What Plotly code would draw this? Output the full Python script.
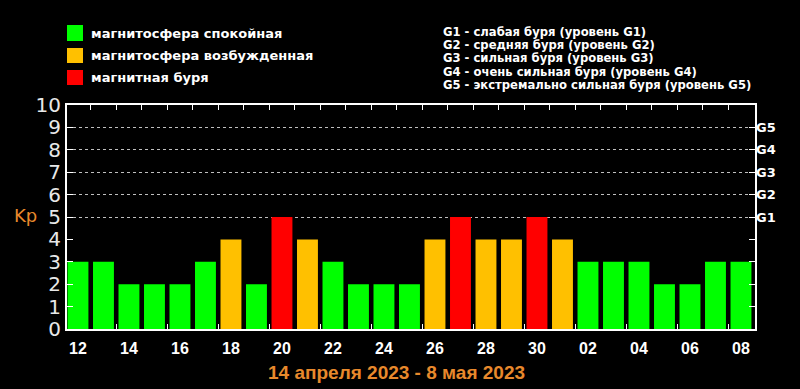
import plotly.graph_objects as go

# ---- data ----
day_labels = ["12", "13", "14", "15", "16", "17", "18", "19", "20", "21", "22", "23", "24", "25",
              "26", "27", "28", "29", "30", "01", "02", "03", "04", "05", "06", "07", "08"]
kp_values = [3, 3, 2, 2, 2, 3, 4, 2, 5, 4, 3, 2, 2, 2, 4, 5, 4, 4, 5, 4, 3, 3, 3, 2, 2, 3, 3]
y_ticks = list(range(0, 11))
g_levels = [5, 6, 7, 8, 9]
g_labels = ["G1", "G2", "G3", "G4", "G5"]
legend_left = ["магнитосфера спокойная", "магнитосфера возбужденная", "магнитная буря"]
legend_right = ["G1 - слабая буря (уровень G1)",
                "G2 - средняя буря (уровень G2)",
                "G3 - сильная буря (уровень G3)",
                "G4 - очень сильная буря (уровень G4)",
                "G5 - экстремально сильная буря (уровень G5)"]
period_title = "14 апреля 2023 - 8 мая 2023"

GREEN, ORANGE, RED = "#00ff00", "#ffc000", "#ff0000"
ORANGE_TXT = "#e8892c"

W, H = 800, 389
L, R, T, B = 67, 45, 105, 60
PW, PH = W - L - R, H - T - B


def px(x):
    return (x - L) / PW


def py(y):
    return (H - B - y) / PH


idx = list(range(len(kp_values)))


def color_of(v):
    if v >= 5:
        return RED
    if v == 4:
        return ORANGE
    return GREEN


fig = go.Figure()
for col in (GREEN, ORANGE, RED):
    xs = [i for i in idx if color_of(kp_values[i]) == col]
    ys = [kp_values[i] for i in xs]
    fig.add_trace(go.Bar(x=xs, y=ys, width=0.82, marker=dict(color=col, line=dict(width=0)),
                         showlegend=False, hoverinfo="x+y"))

fig.add_trace(go.Scatter(x=[0], y=[0], xaxis="x2", yaxis="y2", showlegend=False,
                         mode="markers", marker=dict(opacity=0), hoverinfo="skip"))

xr = [-0.43, len(kp_values) - 0.45]
fig.update_layout(
    width=W, height=H, margin=dict(l=L, r=R, t=T, b=B),
    paper_bgcolor="black", plot_bgcolor="black", barmode="overlay",
    xaxis=dict(range=xr, tickmode="array", tickvals=idx[::2], ticktext=day_labels[::2],
               ticks="", showline=True, linecolor="white", linewidth=2, mirror=True,
               showgrid=False, zeroline=False, ticklabelstandoff=4,
               tickfont=dict(family="Liberation Sans Narrow, Liberation Sans, sans-serif",
                             size=16, color="white", weight="bold"),
               minor=dict(tickmode="array", tickvals=[i + 0.5 for i in idx[1:-1:2]],
                          ticks="inside", ticklen=5, tickcolor="white", tickwidth=1,
                          showgrid=False)),
    xaxis2=dict(range=xr, overlaying="x", side="top", tickmode="array",
                tickvals=[i + 0.5 for i in idx[:-1]], ticks="inside", ticklen=5,
                tickcolor="white", showticklabels=False, showline=False, showgrid=False,
                zeroline=False),
    yaxis=dict(range=[0, 10], tickmode="array", tickvals=y_ticks, ticks="inside", ticklen=6,
               tickcolor="white", showline=True, linecolor="white", linewidth=2,
               mirror="ticks", showgrid=False, zeroline=False,
               tickfont=dict(family="DejaVu Sans", size=20, color="#e8e8e8")),
    yaxis2=dict(range=[0, 10], overlaying="y", side="right", tickmode="array",
                tickvals=g_levels, ticktext=g_labels, ticks="", showline=False,
                showgrid=True, gridcolor="rgba(255,255,255,0.75)", griddash="dot",
                gridwidth=1, zeroline=False,
                tickfont=dict(family="DejaVu Sans", size=13, color="white", weight="bold")),
)

# Kp axis title
fig.add_annotation(text="Kp", x=px(25), y=py(215), xref="paper", yref="paper",
                   showarrow=False, xanchor="center", yanchor="middle",
                   font=dict(family="DejaVu Sans", size=18, color=ORANGE_TXT))

# bottom period title
fig.add_annotation(text=period_title, x=px(396), y=py(372), xref="paper", yref="paper",
                   showarrow=False, xanchor="center", yanchor="middle",
                   font=dict(family="Liberation Sans Narrow, Liberation Sans, sans-serif",
                             size=19, color=ORANGE_TXT, weight="bold"))

# left legend (swatches + text)
sw_y = [(25, 41), (48, 63), (70, 85)]
for (y0, y1), col, txt in zip(sw_y, (GREEN, ORANGE, RED), legend_left):
    fig.add_shape(type="rect", xref="paper", yref="paper", x0=px(67), x1=px(83),
                  y0=py(y1), y1=py(y0), fillcolor=col, line=dict(width=0))
    fig.add_annotation(text=txt, x=px(89), y=py((y0 + y1) / 2), xref="paper", yref="paper",
                       showarrow=False, xanchor="left", yanchor="middle",
                       font=dict(family="DejaVu Sans", size=13, color="white", weight="bold"))

# right legend text
for k, txt in enumerate(legend_right):
    fig.add_annotation(text=txt, x=px(441), y=py(32 + 13.25 * k), xref="paper", yref="paper",
                       showarrow=False, xanchor="left", yanchor="middle",
                       font=dict(family="DejaVu Sans", size=11.6, color="white", weight="bold"))

fig.write_html("out.html", config={"displayModeBar": False},
               post_script="document.body.style.margin='0';"
                           "document.body.style.background='black';")
